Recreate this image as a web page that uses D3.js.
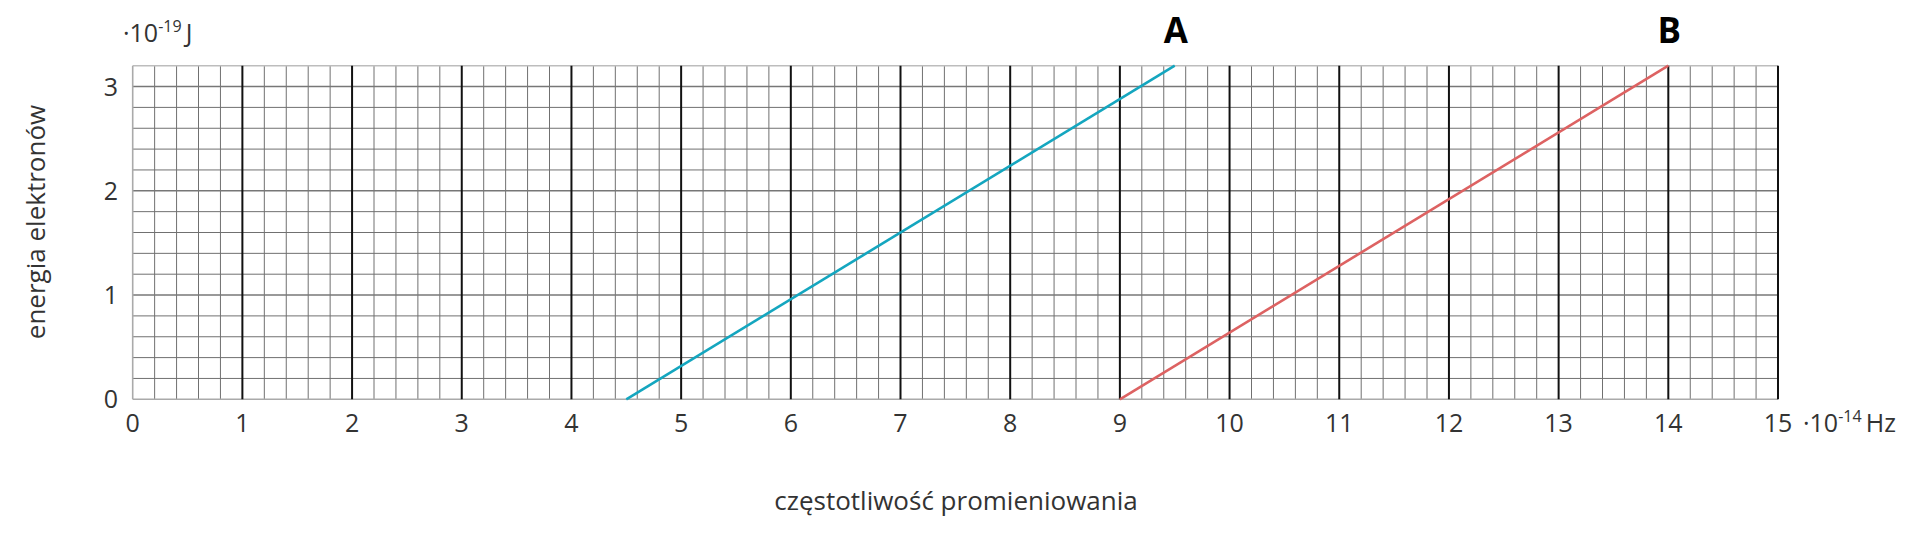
<!DOCTYPE html>
<html><head><meta charset="utf-8">
<script src="https://cdn.jsdelivr.net/npm/d3@7"></script>
<style>body{margin:0;background:#fff}svg{display:block}text{font-family:"Open Sans",sans-serif}</style>
</head><body><svg id="c" width="1920" height="539"></svg>
<script>
const xTicks = [0,1,2,3,4,5,6,7,8,9,10,11,12,13,14,15];
const yTicks = [0,1,2,3];
const lineA = [{f:4.5,e:0},{f:9.5,e:3.2}];
const lineB = [{f:9,e:0},{f:14,e:3.2}];
const seriesNames = ["A","B"];
const xTitle = "częstotliwość promieniowania";
const yTitle = "energia elektronów";

const svg = d3.select("#c");
const x = d3.scaleLinear().domain([0,15]).range([132.7,1778]);
const y = d3.scaleLinear().domain([0,3.2]).range([399.3,65.7]);

const g = svg.append("g");
const minorX = d3.range(0,15.001,0.2).filter(v=>Math.abs(v-Math.round(v))>1e-6);
g.selectAll(".mx").data(minorX).join("line")
 .attr("x1",d=>x(d)).attr("x2",d=>x(d)).attr("y1",y(0)).attr("y2",y(3.2))
 .attr("stroke","#707070").attr("stroke-width",1);
const minorY = d3.range(0,3.201,0.2).filter(v=>Math.abs(v-Math.round(v))>1e-6 && v<3.19);
g.selectAll(".my").data(minorY).join("line")
 .attr("x1",x(0)).attr("x2",x(15)).attr("y1",d=>y(d)).attr("y2",d=>y(d))
 .attr("stroke","#707070").attr("stroke-width",1);
g.selectAll(".My").data(yTicks.filter(d=>d>0)).join("line")
 .attr("x1",x(0)).attr("x2",x(15)).attr("y1",d=>y(d)).attr("y2",d=>y(d))
 .attr("stroke","#777").attr("stroke-width",1.6);
g.append("line").attr("x1",x(0)).attr("x2",x(15)).attr("y1",y(3.2)).attr("y2",y(3.2)).attr("stroke","#bdbdbd").attr("stroke-width",1.6);
g.append("line").attr("x1",x(0)).attr("x2",x(15)).attr("y1",y(0)).attr("y2",y(0)).attr("stroke","#aaa").attr("stroke-width",1.6);
g.append("line").attr("x1",x(0)).attr("x2",x(0)).attr("y1",y(0)).attr("y2",y(3.2)).attr("stroke","#aaa").attr("stroke-width",1.6);
g.selectAll(".Mx").data(xTicks.filter(d=>d>0)).join("line")
 .attr("x1",d=>x(d)).attr("x2",d=>x(d)).attr("y1",y(0)).attr("y2",y(3.2))
 .attr("stroke","#111").attr("stroke-width",2);

const line = d3.line().x(d=>x(d.f)).y(d=>y(d.e));
svg.append("path").datum(lineA).attr("d",line).attr("fill","none").attr("stroke","#14a6bf").attr("stroke-width",2.6);
svg.append("path").datum(lineB).attr("d",line).attr("fill","none").attr("stroke","#dd6262").attr("stroke-width",2.6);

[[lineA,seriesNames[0]],[lineB,seriesNames[1]]].forEach(([d,n])=>{
  svg.append("text").attr("x",x(d[1].f)+1).attr("y",43).attr("text-anchor","middle")
   .attr("font-size",35).attr("font-weight",700).attr("fill","#000").text(n);
});

svg.selectAll(".xt").data(xTicks).join("text")
 .attr("x",d=>x(d)).attr("y",432).attr("text-anchor","middle").attr("font-size",25).attr("fill","#333").text(d=>d);
svg.selectAll(".yt").data(yTicks).join("text")
 .attr("x",118).attr("y",d=>y(d)+9).attr("text-anchor","end").attr("font-size",25).attr("fill","#333").text(d=>d);

const yu = svg.append("text").attr("x",123).attr("y",42).attr("font-size",25).attr("fill","#333");
yu.append("tspan").text("·10");
yu.append("tspan").attr("font-size",16).attr("dy",-10).text("-19");
yu.append("tspan").attr("dy",10).text("\u2009J");
const xu = svg.append("text").attr("x",1803).attr("y",432).attr("font-size",25).attr("fill","#333");
xu.append("tspan").text("·10");
xu.append("tspan").attr("font-size",16).attr("dy",-10).text("-14");
xu.append("tspan").attr("dy",10).text("\u2009Hz");

svg.append("text").attr("x",956).attr("y",510).attr("text-anchor","middle").attr("font-size",26).attr("fill","#333").text(xTitle);
svg.append("text").attr("transform","translate(45,222) rotate(-90)").attr("text-anchor","middle").attr("font-size",26).attr("fill","#333").text(yTitle);
</script></body></html>
